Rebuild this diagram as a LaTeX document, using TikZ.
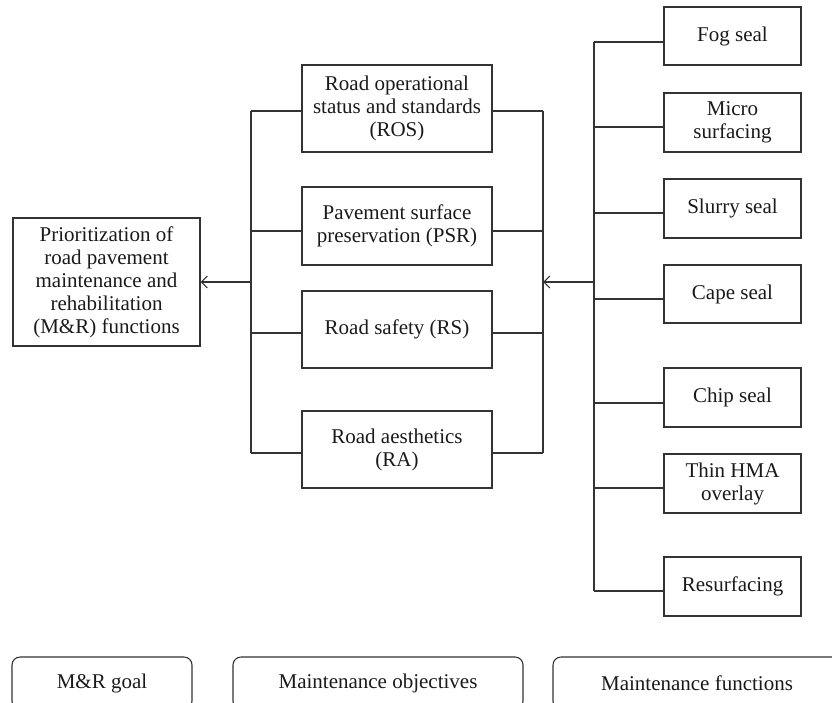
\documentclass[tikz,border=0pt]{standalone}
\usepackage{fontspec}
\setmainfont{Liberation Serif}
\usetikzlibrary{arrows.meta}
\definecolor{ln}{HTML}{333333}
\definecolor{tx}{HTML}{1A1A1A}
\begin{document}
\begin{tikzpicture}[x=1pt,y=-1pt,
  box/.style={draw=ln,line width=1.1pt,text=tx,align=center,inner sep=0pt,
    font=\fontsize{21}{23}\selectfont},
  midbox/.style={box,minimum width=190pt},
  rbox/.style={box,minimum width=137pt},
  legbox/.style={box,rounded corners=8pt,minimum height=52pt},
  wire/.style={draw=ln,line width=1.1pt},
  arr/.style={wire,-{Straight Barb[length=6pt,width=12pt,line width=1.1pt]}}]
\useasboundingbox (0,0) rectangle (832,702);
% left goal box
\node[box,minimum width=187pt,minimum height=128pt] (goal) at (106.5,282)
  {Prioritization of\\road pavement\\maintenance and\\rehabilitation\\(M\&R) functions};
% objectives
\node[midbox,minimum height=87pt] (ros) at (397,108.5) {Road operational\\status and standards\\(ROS)};
\node[midbox,minimum height=78pt] (psr) at (397,226) {Pavement surface\\preservation (PSR)};
\node[midbox,minimum height=77pt] (rs) at (397,329.5) {Road safety (RS)};
\node[midbox,minimum height=77pt] (ra) at (397,449.5) {Road aesthetics\\(RA)};
% functions
\node[rbox,minimum height=58pt] (fog) at (732.5,36) {Fog seal};
\node[rbox,minimum height=59pt] (micro) at (732.5,122.5) {Micro\\surfacing};
\node[rbox,minimum height=59pt] (slurry) at (732.5,208.5) {Slurry seal};
\node[rbox,minimum height=58pt] (cape) at (732.5,294) {Cape seal};
\node[rbox,minimum height=59pt] (chip) at (732.5,397.5) {Chip seal};
\node[rbox,minimum height=59pt] (thin) at (732.5,483.5) {Thin HMA\\overlay};
\node[rbox,minimum height=59pt] (resurf) at (732.5,586.5) {Resurfacing};
% legend
\node[legbox,minimum width=180pt] (leg1) at (102,683) {M\&R goal};
\node[legbox,minimum width=290pt] (leg2) at (378,683) {Maintenance objectives};
\node[legbox,minimum width=288pt] (leg3) at (697,683) {Maintenance functions};
% left bus
\coordinate (l1) at (251,111);
\coordinate (l2) at (251,231);
\coordinate (l3) at (251,333);
\coordinate (l4) at (251,453);
\coordinate (lm) at (251,282);
\draw[wire] (l1) -- (l4);
\draw[wire] (l1) -- (l1 -| ros.west);
\draw[wire] (l2) -- (l2 -| psr.west);
\draw[wire] (l3) -- (l3 -| rs.west);
\draw[wire] (l4) -- (l4 -| ra.west);
\draw[arr] (lm) -- (lm -| goal.east);
% middle right bus
\coordinate (m1) at (543,111);
\coordinate (m2) at (543,231);
\coordinate (m3) at (543,333);
\coordinate (m4) at (543,453);
\coordinate (mm) at (543,282);
\draw[wire] (m1) -- (m4);
\draw[wire] (m1) -- (m1 -| ros.east);
\draw[wire] (m2) -- (m2 -| psr.east);
\draw[wire] (m3) -- (m3 -| rs.east);
\draw[wire] (m4) -- (m4 -| ra.east);
% right bus
\coordinate (r1) at (594,42);
\coordinate (r2) at (594,127);
\coordinate (r3) at (594,213);
\coordinate (r4) at (594,299);
\coordinate (r5) at (594,403);
\coordinate (r6) at (594,488);
\coordinate (r7) at (594,591);
\coordinate (rm) at (594,282);
\draw[wire] (r1) -- (r7);
\draw[wire] (r1) -- (r1 -| fog.west);
\draw[wire] (r2) -- (r2 -| micro.west);
\draw[wire] (r3) -- (r3 -| slurry.west);
\draw[wire] (r4) -- (r4 -| cape.west);
\draw[wire] (r5) -- (r5 -| chip.west);
\draw[wire] (r6) -- (r6 -| thin.west);
\draw[wire] (r7) -- (r7 -| resurf.west);
\draw[arr] (rm) -- (mm);
\end{tikzpicture}
\end{document}
